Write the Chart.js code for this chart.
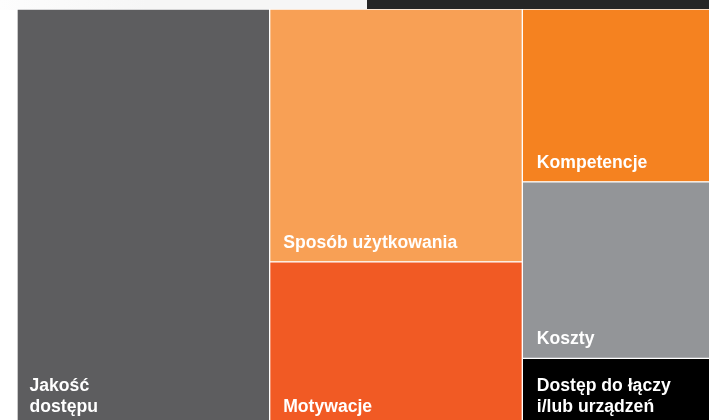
<!DOCTYPE html>
<html>
<head>
<meta charset="utf-8">
<script src="https://cdn.jsdelivr.net/npm/chart.js@4/dist/chart.umd.min.js"></script>
<style>
  html, body { margin: 0; padding: 0; background: #ffffff; }
  #wrap { position: relative; width: 709px; height: 420px; overflow: hidden; background: #ffffff; }
  #topShade { position: absolute; left: 0; top: 0; width: 367px; height: 10px;
              background: linear-gradient(to right, #fdfdfd, #f6f6f6 40%, #f6f6f6); }
  #topBar { position: absolute; left: 367px; top: 0; width: 342px; height: 10px; background: #262626; }
  #c { position: absolute; left: 0; top: 0; }
</style>
</head>
<body>
<div id="wrap">
  <div id="topShade"></div>
  <div id="topBar"></div>
  <canvas id="c" width="780" height="430"></canvas>
</div>
<script>
// Treemap columns (each column is one stack)
const columns = ["c1", "c2", "c3"];
// Tiles, listed bottom-to-top inside each column
const tileLabels = [
  ["Jakość", "dostępu"],
  ["Motywacje"],
  ["Sposób użytkowania"],
  ["Dostęp do łączy", "i/lub urządzeń"],
  ["Koszty"],
  ["Kompetencje"]
];
const tileColumn = [0, 1, 1, 2, 2, 2];
// Share of total area (%)
const tileValues = [33.3, 13.1, 20.2, 5.4, 14.1, 13.8];
const columnTotal = 33.3;

const tileColors = ["#5d5d5f", "#f15a24", "#f8a055", "#000000", "#939598", "#f58220"];

const datasets = tileValues.map((v, i) => {
  const d = columns.map(() => null);
  d[tileColumn[i]] = v;
  return {
    label: tileLabels[i].join(" "),
    data: d,
    backgroundColor: tileColors[i],
    borderColor: "#ffffff",
    borderWidth: 1,
    borderSkipped: false,
    barPercentage: 1,
    categoryPercentage: 1
  };
});

const labelPlugin = {
  id: "tileLabels",
  afterDatasetsDraw(chart) {
    const ctx = chart.ctx;
    ctx.save();
    ctx.fillStyle = "#ffffff";
    ctx.font = "bold 17.6px 'Liberation Sans', Arial, sans-serif";
    ctx.textBaseline = "alphabetic";
    ctx.textAlign = "left";
    chart.data.datasets.forEach((ds, i) => {
      const meta = chart.getDatasetMeta(i);
      const el = meta.data[tileColumn[i]];
      if (!el) return;
      const p = el.getProps(["x", "y", "base", "width"], true);
      const left = p.x - p.width / 2 + 12.5 + tileColumn[i];
      const bottom = Math.max(p.y, p.base);
      const lines = tileLabels[i];
      const lh = 21;
      lines.forEach((t, k) => {
        const yy = bottom - 14 - (lines.length - 1 - k) * lh;
        ctx.fillText(t, left, yy);
      });
    });
    ctx.restore();
  }
};

new Chart(document.getElementById("c"), {
  type: "bar",
  data: { labels: columns, datasets },
  options: {
    responsive: false,
    animation: false,
    layout: { padding: { left: 17, top: 9, right: 5, bottom: 4 } },
    plugins: { legend: { display: false }, tooltip: { enabled: false } },
    scales: {
      x: { display: false, stacked: true },
      y: { display: false, stacked: true, min: 0, max: columnTotal }
    }
  },
  plugins: [labelPlugin]
});
</script>
</body>
</html>
